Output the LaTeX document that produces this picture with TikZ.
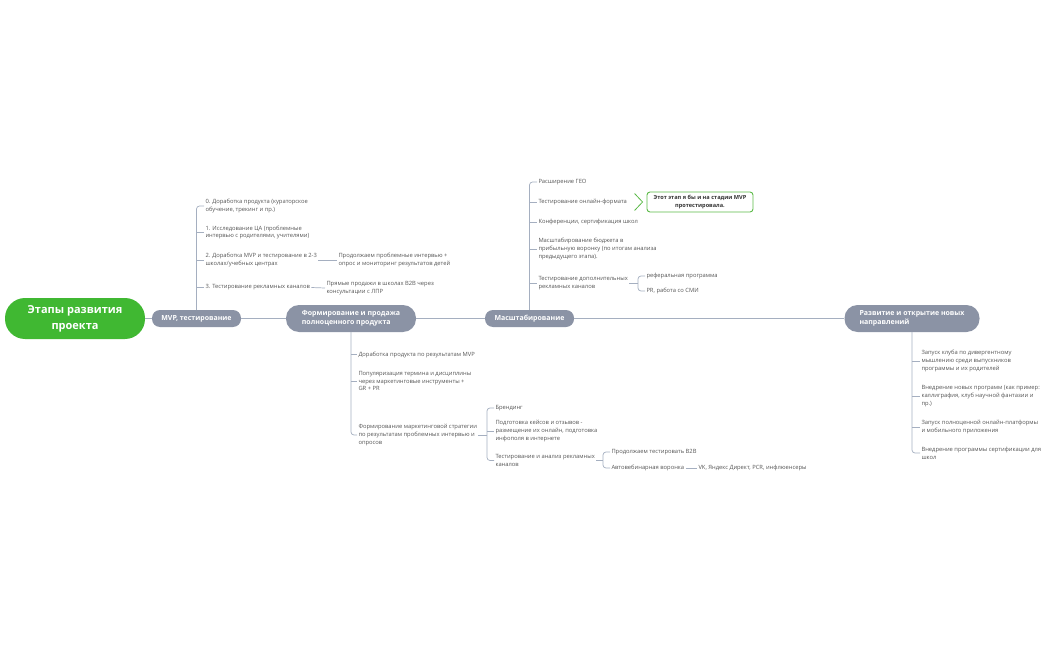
\documentclass[tikz,border=0pt]{standalone}
\usepackage{fontspec}
\setmainfont{Open Sans}
\usepackage{xcolor}
\usetikzlibrary{positioning, calc}
\definecolor{rootgreen}{RGB}{64,184,50}
\definecolor{topicgray}{RGB}{139,147,165}
\definecolor{linkgray}{RGB}{165,175,192}
\definecolor{textgray}{RGB}{85,85,85}
\definecolor{notegreen}{RGB}{92,186,72}
\tikzset{
  roottopic/.style={
    rectangle,
    rounded corners=20pt,
    fill=rootgreen,
    text=white,
    minimum width=140pt,
    minimum height=41pt,
    align=center,
    font=\fontsize{11}{16}\selectfont\bfseries
  },
  maintopic/.style={
    rectangle,
    rounded corners=8pt,
    fill=topicgray,
    text=white,
    minimum height=17pt,
    inner sep=2pt,
    font=\fontsize{7}{9.5}\selectfont\bfseries
  },
  subtopic/.style={
    anchor=west,
    inner sep=0pt,
    outer sep=1.5pt,
    align=left,
    text=textgray,
    font=\fontsize{5.8}{7.8}\selectfont
  },
  notebox/.style={
    rectangle,
    rounded corners=3pt,
    draw=notegreen,
    line width=0.9pt,
    fill=white,
    minimum width=106pt,
    minimum height=20pt,
    align=center,
    text=black!80,
    font=\fontsize{5.6}{7.5}\selectfont\bfseries
  },
  noteline/.style={
    draw=notegreen,
    line width=0.8pt
  },
  link/.style={
    draw=linkgray,
    line width=0.7pt
  }
}
\begin{document}
\begin{tikzpicture}[x=1pt, y=-1pt]
  \useasboundingbox (0,0) rectangle (1050,650);

  % Main topics
  \node (root) [roottopic] at (75,318.5) {Этапы развития\\проекта};
  \node (mvp) [maintopic, minimum width=89pt] at (196.5,318.5) {MVP, тестирование};
  \node (form) [maintopic, minimum width=130pt, minimum height=27pt, rounded corners=13pt, align=left] at (351,318.5) {Формирование и продажа\\полноценного продукта};
  \node (scale) [maintopic, minimum width=89pt] at (529.5,318.5) {Масштабирование};
  \node (dev) [maintopic, minimum width=135pt, minimum height=27pt, rounded corners=13pt, align=left] at (912,318.5) {Развитие и открытие новых\\направлений};

  \draw[link] (root) -- (mvp);
  \draw[link] (mvp) -- (form);
  \draw[link] (form) -- (scale);
  \draw[link] (scale) -- (dev);

  % MVP
  \node (m0) [subtopic] at (204,206) {0. Доработка продукта (кураторское\\обучение, трекинг и пр.)};
  \node (m1) [subtopic] at (204,232.5) {1. Исследование ЦА (проблемные\\интервью с родителями, учителями)};
  \node (m2) [subtopic] at (204,260) {2. Доработка MVP и тестирование в 2-3\\школах/учебных центрах};
  \node (m3) [subtopic] at (204,287.5) {3. Тестирование рекламных каналов};
  \node (m2a) [subtopic] at (337,260) {Продолжаем проблемные интервью +\\опрос и мониторинг результатов детей};
  \node (m3a) [subtopic] at (325,288) {Прямые продажи в школах B2B через\\консультации с ЛПР};

  \draw[link, rounded corners=3pt] (mvp.north) |- (m0.west);
  \foreach \n in {m1,m2,m3}
    \draw[link] (mvp.north |- \n.west) -- (\n.west);
  \draw[link] (m2.east) -- (m2a.west);
  \draw[link] (m3.east) -- (m3a.west);

  % Scaling
  \node (s0) [subtopic] at (537,182) {Расширение ГЕО};
  \node (s1) [subtopic] at (537,202) {Тестирование онлайн-формата};
  \node (s2) [subtopic] at (537,222) {Конференции, сертификация школ};
  \node (s3) [subtopic] at (537,249) {Масштабирование бюджета в\\прибыльную воронку (по итогам анализа\\предыдущего этапа).};
  \node (s4) [subtopic] at (537,283) {Тестирование дополнительных\\рекламных каналов};
  \node (s4a) [subtopic] at (645,276) {реферальная программа};
  \node (s4b) [subtopic] at (645,291) {PR, работа со СМИ};
  \node (note) [notebox] at (700,202) {Этот этап я бы и на стадии MVP\\протестировала.};

  \draw[link, rounded corners=3pt] (scale.north) |- (s0.west);
  \foreach \n in {s1,s2,s3,s4}
    \draw[link] (scale.north |- \n.west) -- (\n.west);
  \coordinate (brS4) at ($(s4a.west |- s4.east)+(-7,0)$);
  \draw[link] (s4.east) -- (brS4);
  \draw[link, rounded corners=3pt] (brS4) |- (s4a.west);
  \draw[link, rounded corners=3pt] (brS4) |- (s4b.west);
  \draw[noteline] ([xshift=-12pt,yshift=8.5pt]note.west) -- ([xshift=-4pt]note.west) -- ([xshift=-12pt,yshift=-8.5pt]note.west);

  % Full product
  \node (f0) [subtopic] at (357,354.5) {Доработка продукта по результатам MVP};
  \node (f1) [subtopic] at (357,381) {Популяризация термина и дисциплины\\через маркетинговые инструменты +\\GR + PR};
  \node (f2) [subtopic] at (357,435) {Формирование маркетинговой стратегии\\по результатам проблемных интервью и\\опросов};
  \node (k0) [subtopic] at (494,408) {Брендинг};
  \node (k1) [subtopic] at (494,431) {Подготовка кейсов и отзывов -\\размещение их онлайн, подготовка\\инфополя в интернете};
  \node (k2) [subtopic] at (494,460.5) {Тестирование и анализ рекламных\\каналов};
  \node (t0) [subtopic] at (610,452) {Продолжаем тестировать B2B};
  \node (t1) [subtopic] at (610,468) {Автовебинарная воронка};
  \node (t1a) [subtopic] at (697,468) {VK, Яндекс Директ, PCR, инфлюенсеры};

  \draw[link, rounded corners=3pt] (form.south) |- (f2.west);
  \foreach \n in {f0,f1}
    \draw[link] (form.south |- \n.west) -- (\n.west);
  \coordinate (brF2) at ($(k0.west |- f2.east)+(-7,0)$);
  \draw[link] (f2.east) -- (brF2);
  \draw[link, rounded corners=3pt] (brF2) |- (k0.west);
  \draw[link, rounded corners=3pt] (brF2) |- (k2.west);
  \draw[link] (brF2 |- k1.west) -- (k1.west);
  \coordinate (brK2) at ($(t0.west |- k2.east)+(-7,0)$);
  \draw[link] (k2.east) -- (brK2);
  \draw[link, rounded corners=3pt] (brK2) |- (t0.west);
  \draw[link, rounded corners=3pt] (brK2) |- (t1.west);
  \draw[link] (t1.east) -- (t1a.west);

  % New directions
  \node (d0) [subtopic] at (920,361) {Запуск клуба по дивергентному\\мышлению среди выпускников\\программы и их родителей};
  \node (d1) [subtopic] at (920,396) {Внедрение новых программ (как пример:\\каллиграфия, клуб научной фантазии и\\пр.)};
  \node (d2) [subtopic] at (920,427) {Запуск полноценной онлайн-платформы\\и мобильного приложения};
  \node (d3) [subtopic] at (920,453) {Внедрение программы сертификации для\\школ};

  \draw[link, rounded corners=3pt] (dev.south) |- (d3.west);
  \foreach \n in {d0,d1,d2}
    \draw[link] (dev.south |- \n.west) -- (\n.west);

\end{tikzpicture}
\end{document}
